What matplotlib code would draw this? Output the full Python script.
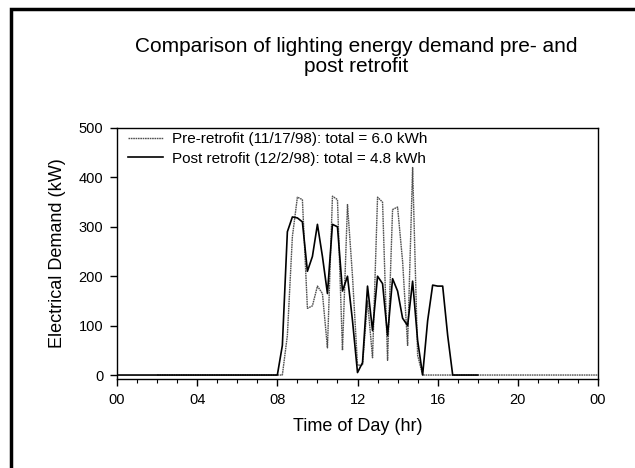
import matplotlib
matplotlib.use('Agg')
import matplotlib.pyplot as plt
from matplotlib.patches import Rectangle
from matplotlib.ticker import MultipleLocator, FixedLocator, FixedFormatter

plt.rcParams['font.family'] = ['Liberation Sans', 'DejaVu Sans']

# dados (hora do dia, kW)
pre_hours = [2.0, 8.0, 8.25, 8.5, 8.75, 9.0, 9.25, 9.5, 9.75, 10.0, 10.25, 10.5,
             10.75, 11.0, 11.25, 11.5, 11.75, 12.0, 12.25, 12.5, 12.75, 13.0,
             13.25, 13.5, 13.75, 14.0, 14.25, 14.5, 14.75, 15.0, 15.25, 24.0]
pre_kw = [0, 0, 0, 80, 280, 360, 355, 135, 140, 180, 165, 55,
          362, 355, 50, 345, 200, 20, 20, 150, 35, 360,
          350, 30, 335, 340, 230, 60, 420, 40, 0, 0]

post_hours = [0.0, 8.0, 8.25, 8.5, 8.75, 9.0, 9.25, 9.5, 9.75, 10.0, 10.25, 10.5,
              10.75, 11.0, 11.25, 11.5, 11.75, 12.0, 12.25, 12.5, 12.75, 13.0,
              13.25, 13.5, 13.75, 14.0, 14.25, 14.5, 14.75, 15.0, 15.25, 15.5,
              15.75, 16.0, 16.25, 16.5, 16.75, 18.0]
post_kw = [0, 0, 60, 290, 320, 318, 310, 210, 240, 305, 240, 165,
           305, 300, 170, 200, 110, 5, 25, 180, 90, 200,
           185, 80, 195, 170, 115, 100, 190, 70, 0, 110,
           182, 180, 180, 80, 0, 0]

pre_label = 'Pre-retrofit (11/17/98): total = 6.0 kWh'
post_label = 'Post retrofit (12/2/98): total = 4.8 kWh'
tick_pos = [0, 4, 8, 12, 16, 20, 24]
tick_txt = ['00', '04', '08', '12', '16', '20', '00']

fig = plt.figure(figsize=(6.35, 4.68), dpi=100)
ax = fig.add_axes([0.1843, 0.1902, 0.7574, 0.5363])

ax.plot(pre_hours, pre_kw, color='#505050', lw=1.0, ls=(0, (1.2, 0.5)), label=pre_label)
ax.plot(post_hours, post_kw, color='black', lw=1.2, label=post_label)

ax.set_xlim(0, 24)
ax.set_ylim(-8, 500)
ax.xaxis.set_major_locator(FixedLocator(tick_pos))
ax.xaxis.set_major_formatter(FixedFormatter(tick_txt))
ax.xaxis.set_minor_locator(MultipleLocator(1))
ax.yaxis.set_major_locator(FixedLocator([0, 100, 200, 300, 400, 500]))
ax.tick_params(axis='both', which='major', direction='out', length=5, width=1.0,
               labelsize=10.5, pad=5)
ax.tick_params(axis='x', which='minor', direction='out', length=3, width=0.8)
for s in ax.spines.values():
    s.set_linewidth(1.0)

ax.set_xlabel('Time of Day (hr)', fontsize=13, labelpad=8)
ax.set_ylabel('Electrical Demand (kW)', fontsize=13, labelpad=9)

ax.legend(loc='upper left', bbox_to_anchor=(0.0, 1.025), frameon=False, fontsize=11,
          handlelength=2.3, handletextpad=0.6, borderaxespad=0.3, labelspacing=0.35)

fig.text(0.5614, 1 - 37 / 468, 'Comparison of lighting energy demand pre- and\npost retrofit',
         ha='center', va='top', fontsize=15, linespacing=1.05)

# moldura da figura (lado esquerdo e topo visiveis)
fig.add_artist(Rectangle((11 / 635, -0.2), 1.5, 1.2 - 9 / 468, transform=fig.transFigure,
                         fill=False, lw=2.5, edgecolor='black', clip_on=False))

plt.savefig('out.png', dpi=100)
